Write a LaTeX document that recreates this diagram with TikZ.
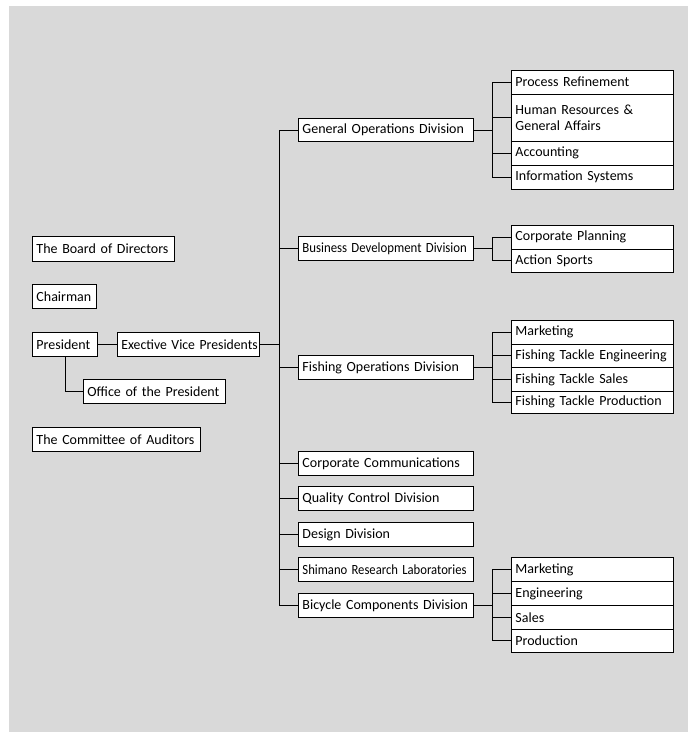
\documentclass[tikz,border=0pt]{standalone}
\usepackage{fontspec}
\usepackage{graphicx}
\setmainfont{Carlito}
\definecolor{bgc}{RGB}{217,217,217}
\tikzset{
  box/.style={draw=black, fill=white, line width=0.9pt, anchor=north west,
    inner xsep=4pt, inner ysep=0pt, align=left,
    font=\fontsize{14}{16}\selectfont},
  conn/.style={draw=black, line width=0.9pt}
}
\newcommand\bx[6]{%
  \pgfmathsetmacro\bw{#4-#2}%
  \pgfmathsetmacro\bh{#5-#3}%
  \pgfmathsetmacro\tw{\bw-8}%
  \node[box, minimum height=\bh pt, text width=\tw pt] (#1) at (#2,-#3) {#6};}
\begin{document}
\begin{tikzpicture}[x=1pt,y=1pt]
\useasboundingbox (0,0) rectangle (688,-732);
\fill[bgc] (9,-6) rectangle (688,-732);
% left column
\bx{board}{32}{236}{174}{261}{\hbox{The Board of Directors}}
\bx{chair}{32}{284}{96}{308}{\hbox{Chairman}}
\bx{pres}{32}{332}{97}{356}{\hbox{President}}
\bx{evp}{117}{332}{259}{356}{\scalebox{0.98}[1]{Exective Vice Presidents}}
\bx{office}{83}{379}{225}{403}{\hbox{Office of the President}}
\bx{audit}{32}{427}{200}{451}{\hbox{The Committee of Auditors}}
% middle column
\bx{gen}{298}{118}{473}{141}{\hbox{General Operations Division}}
\bx{bdd}{298}{236}{473}{260}{\scalebox{0.915}[1]{Business Development Division}}
\bx{fod}{298}{355}{473}{379}{\hbox{Fishing Operations Division}}
\bx{cc}{298}{451}{473}{475}{\hbox{Corporate Communications}}
\bx{qc}{298}{486}{473}{510}{\hbox{Quality Control Division}}
\bx{des}{298}{522}{473}{546}{\hbox{Design Division}}
\bx{srl}{298}{557}{473}{581}{\scalebox{0.905}[1]{Shimano Research Laboratories}}
\bx{bic}{298}{593}{473}{617}{\hbox{Bicycle Components Division}}
% right column
\bx{pr}{511}{70}{673}{93.5}{\hbox{Process Refinement}}
\bx{hr}{511}{93.5}{673}{141}{\hbox{Human Resources \&}\\\hbox{General Affairs}}
\bx{acc}{511}{141}{673}{164.5}{\hbox{Accounting}}
\bx{is}{511}{164.5}{673}{188.5}{\hbox{Information Systems}}
\bx{cp}{511}{224.5}{673}{248.5}{\hbox{Corporate Planning}}
\bx{as}{511}{248.5}{673}{272}{\hbox{Action Sports}}
\bx{mka}{511}{320}{673}{343.5}{\hbox{Marketing}}
\bx{fte}{511}{343.5}{673}{367}{\hbox{Fishing Tackle Engineering}}
\bx{fts}{511}{367}{673}{391}{\hbox{Fishing Tackle Sales}}
\bx{ftp}{511}{391}{673}{412.5}{\hbox{Fishing Tackle Production}}
\bx{mkb}{511}{557.3}{673}{581.3}{\hbox{Marketing}}
\bx{eng}{511}{581.3}{673}{605.3}{\hbox{Engineering}}
\bx{sal}{511}{605.3}{673}{628.7}{\hbox{Sales}}
\bx{prod}{511}{628.7}{673}{652}{\hbox{Production}}
% connector guide coordinates
\coordinate (tx) at (279,0);
\coordinate (sx) at (492,0);
% connectors
\draw[conn] (pres.east) -- (evp.west);
\draw[conn] (pres.south) |- (office.west);
\draw[conn] (evp.east) -- (evp.east -| tx);
\draw[conn] (gen.west) -- (gen.west -| tx) -- (bic.west -| tx) -- (bic.west);
\foreach \n in {bdd,fod,cc,qc,des,srl} {\draw[conn] (\n.west) -- (\n.west -| tx);}
% sub-branches
\draw[conn] (gen.east) -- (gen.east -| sx);
\draw[conn] (pr.west) -- (pr.west -| sx) -- (is.west -| sx) -- (is.west);
\foreach \n in {hr,acc} {\draw[conn] (\n.west) -- (\n.west -| sx);}
\draw[conn] (bdd.east) -- (bdd.east -| sx);
\draw[conn] (cp.west) -- (cp.west -| sx) -- (as.west -| sx) -- (as.west);
\draw[conn] (fod.east) -- (fod.east -| sx);
\draw[conn] (mka.west) -- (mka.west -| sx) -- (ftp.west -| sx) -- (ftp.west);
\foreach \n in {fte,fts} {\draw[conn] (\n.west) -- (\n.west -| sx);}
\draw[conn] (bic.east) -- (bic.east -| sx);
\draw[conn] (mkb.west) -- (mkb.west -| sx) -- (prod.west -| sx) -- (prod.west);
\foreach \n in {eng,sal} {\draw[conn] (\n.west) -- (\n.west -| sx);}
\end{tikzpicture}
\end{document}
